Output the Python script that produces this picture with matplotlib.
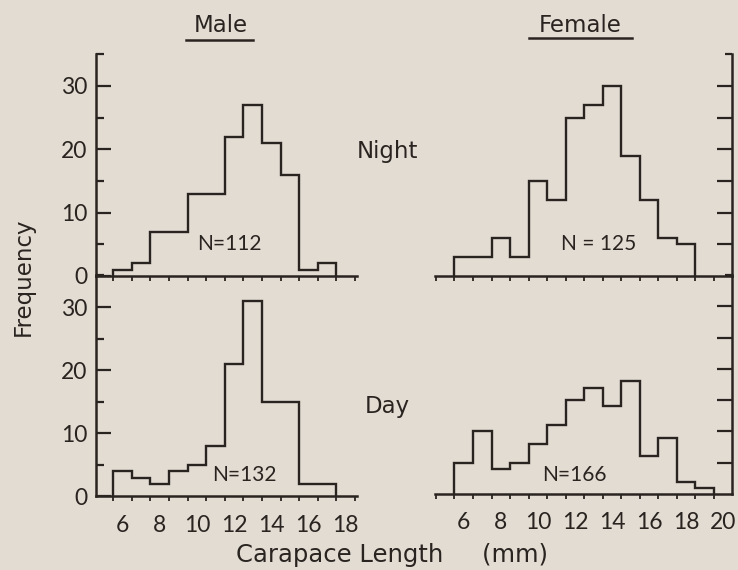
import matplotlib
matplotlib.use("Agg")
import matplotlib.pyplot as plt
import numpy as np
from matplotlib.ticker import FixedLocator, NullFormatter
from matplotlib.lines import Line2D

# counts per 1 mm size class, first class centred on 6 mm
male_night = [1, 2, 7, 7, 13, 13, 22, 27, 21, 16, 1, 2]
male_day = [4, 3, 2, 4, 5, 8, 21, 31, 15, 15, 2, 2]
female_night = [3, 3, 6, 3, 15, 12, 25, 27, 30, 19, 12, 6, 5]
female_day = [5, 10, 4, 5, 8, 11, 15, 17, 14, 18, 6, 9, 2, 1]
first_edge = 5.5

male_xlabels = [6, 8, 10, 12, 14, 16, 18]
female_xlabels = [6, 8, 10, 12, 14, 16, 18, 20]
y_major = [0, 10, 20, 30]
y_minor = [5, 15, 25, 35]

n_text = {"male_night": "N=112", "male_day": "N=132",
          "female_night": "N = 125", "female_day": "N=166"}

bg = "#e3dcd3"
ink = "#2a2421"
# numbers in Lato (narrow "1"), words in DejaVu (wide letters like the original)
plt.rcParams["font.family"] = ["Lato", "DejaVu Sans"]
word_font = "DejaVu Sans"


def edges_for(vals):
    return first_edge + np.arange(len(vals) + 1)


def style_panel(ax, side, xlim, xticks, labels):
    ax.set_facecolor("none")
    ax.set_xlim(*xlim)
    ax.set_ylim(0, 35)
    for s in ["top", "left", "right"]:
        ax.spines[s].set_visible(s == side)
    ax.spines["bottom"].set_linewidth(1.8)
    ax.spines[side].set_linewidth(1.8)
    ax.spines["bottom"].set_color(ink)
    ax.spines[side].set_color(ink)

    # x: small ticks on class boundaries, labels at class centres
    ax.xaxis.set_minor_locator(FixedLocator(xticks))
    ax.tick_params(axis="x", which="minor", direction="out", length=3.5,
                   width=1.3, color=ink)
    ax.xaxis.set_major_locator(FixedLocator(labels if labels else []))
    ax.tick_params(axis="x", which="major", length=0, pad=13,
                   labelsize=16.5, labelcolor=ink)

    if side == "left":
        ax.yaxis.set_major_locator(FixedLocator(y_major))
        ax.yaxis.set_minor_locator(FixedLocator(y_minor))
        ax.tick_params(axis="y", which="major", direction="in", length=11,
                       width=1.6, pad=6, labelsize=16.5, labelcolor=ink, color=ink)
        ax.tick_params(axis="y", which="minor", direction="in", length=5.5,
                       width=1.6, color=ink)
    else:
        ax.yaxis.tick_right()
        ax.yaxis.set_major_locator(FixedLocator([5, 10, 15, 20, 25, 30]))
        ax.yaxis.set_minor_locator(FixedLocator([35]))
        ax.yaxis.set_major_formatter(NullFormatter())
        ax.tick_params(axis="y", which="major", direction="in", length=11,
                       width=1.6, color=ink)
        ax.tick_params(axis="y", which="minor", direction="in", length=5,
                       width=1.6, color=ink)


fig = plt.figure(figsize=(7.38, 5.70), dpi=100)
fig.patch.set_facecolor(bg)

ax_mn = fig.add_axes([0.1301, 0.5158, 0.3533, 0.3889])
ax_md = fig.add_axes([0.1301, 0.1290, 0.3533, 0.3877])
ax_fn = fig.add_axes([0.5894, 0.5158, 0.4020, 0.3889])
ax_fd = fig.add_axes([0.5894, 0.1333, 0.4020, 0.3842])

male_lim = (4.57, 18.6)
female_lim = (4.45, 20.45)
male_ticks = np.arange(5.5, 18.6, 1.0)
female_ticks = np.arange(4.5, 20.6, 1.0)

panels = [
    (ax_mn, male_night, "left", male_lim, male_ticks, None, "male_night", (11.72, 5.0)),
    (ax_md, male_day, "left", male_lim, male_ticks, male_xlabels, "male_day", (12.53, 3.4)),
    (ax_fn, female_night, "right", female_lim, female_ticks, None, "female_night", (13.26, 5.1)),
    (ax_fd, female_day, "right", female_lim, female_ticks, female_xlabels, "female_day", (11.95, 3.0)),
]

for ax, vals, side, lim, ticks, labels, key, npos in panels:
    style_panel(ax, side, lim, ticks, labels)
    ax.stairs(vals, edges_for(vals), baseline=0, color=ink, linewidth=1.7)
    ax.text(npos[0], npos[1], n_text[key], ha="center", va="center",
            fontsize=15, color=ink)

# headings with underline
fig.text(0.2995, 0.9544, "Male", ha="center", va="center", fontsize=16.5,
         color=ink, family=word_font)
fig.add_artist(Line2D([0.252, 0.343], [0.9298, 0.9298], transform=fig.transFigure,
                      color=ink, linewidth=1.8))
fig.text(0.7859, 0.9544, "Female", ha="center", va="center", fontsize=16.5,
         color=ink, family=word_font)
fig.add_artist(Line2D([0.7168, 0.8564], [0.9333, 0.9333], transform=fig.transFigure,
                      color=ink, linewidth=1.8))

fig.text(0.5244, 0.735, "Night", ha="center", va="center", fontsize=16.5,
         color=ink, family=word_font)
fig.text(0.5244, 0.286, "Day", ha="center", va="center", fontsize=16.5,
         color=ink, family=word_font)
fig.text(0.031, 0.514, "Frequency", ha="center", va="center", rotation=90,
         fontsize=16.5, color=ink, family=word_font)
fig.text(0.5318, 0.0263, "Carapace Length     (mm)", ha="center", va="center",
         fontsize=17.5, color=ink, family=word_font)

fig.savefig("out.png", dpi=100, facecolor=bg)
